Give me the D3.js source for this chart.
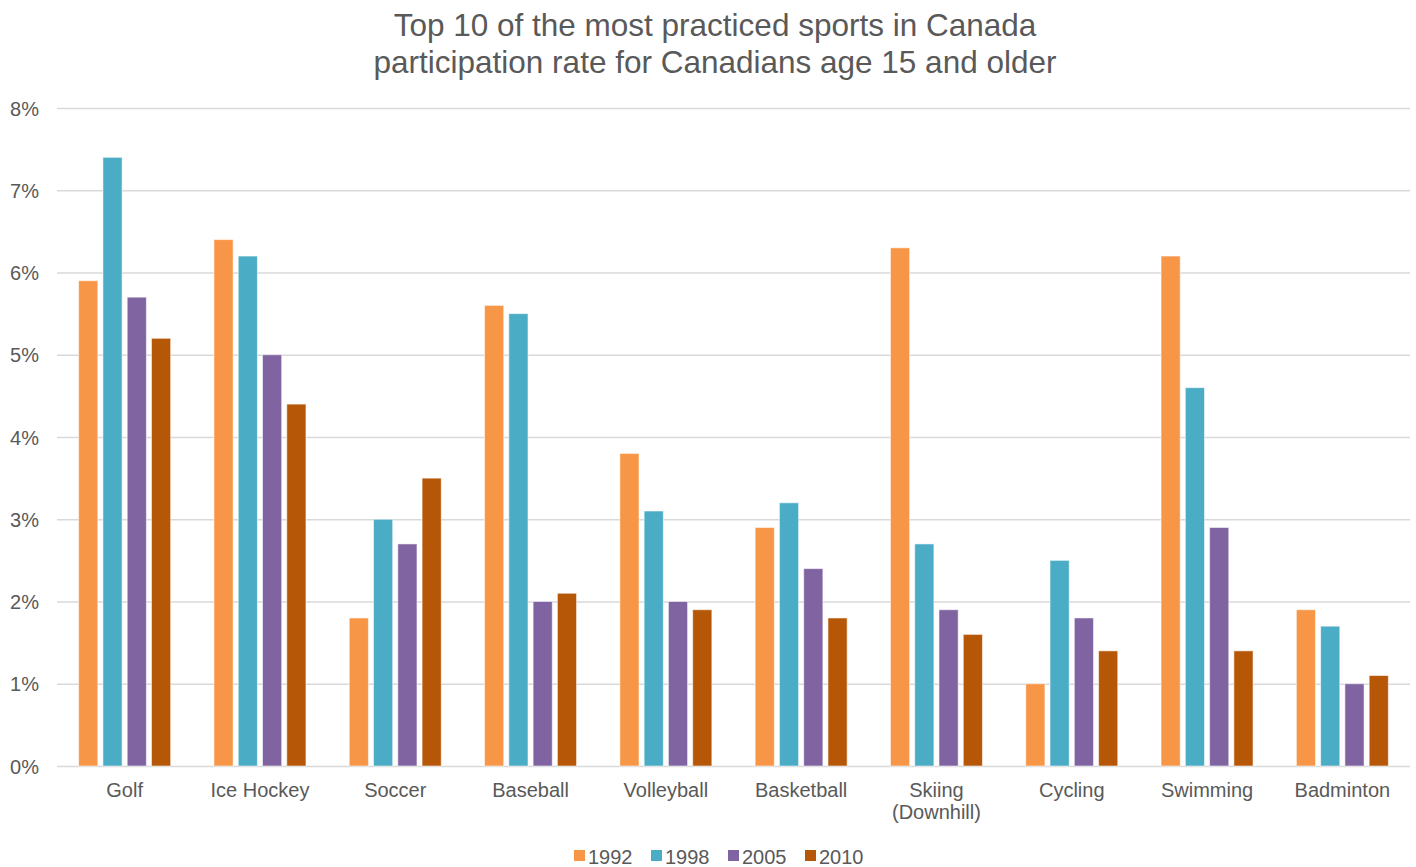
<!DOCTYPE html>
<html>
<head>
<meta charset="utf-8">
<script src="https://cdn.jsdelivr.net/npm/d3@7"></script>
<style>
  html, body { margin: 0; padding: 0; background: #fff; }
  svg text { font-family: "Liberation Sans", Arial, Helvetica, sans-serif; fill: #595959; }
</style>
</head>
<body>
<svg id="chart" width="1416" height="867"></svg>
<script>
// Sports and survey years
const categories = ["Golf", "Ice Hockey", "Soccer", "Baseball", "Volleyball", "Basketball", "Skiing\n(Downhill)", "Cycling", "Swimming", "Badminton"];
const years = ["1992", "1998", "2005", "2010"];

// Participation rate (%) per year, one value per sport
const rate1992 = [5.9, 6.4, 1.8, 5.6, 3.8, 2.9, 6.3, 1.0, 6.2, 1.9];
const rate1998 = [7.4, 6.2, 3.0, 5.5, 3.1, 3.2, 2.7, 2.5, 4.6, 1.7];
const rate2005 = [5.7, 5.0, 2.7, 2.0, 2.0, 2.4, 1.9, 1.8, 2.9, 1.0];
const rate2010 = [5.2, 4.4, 3.5, 2.1, 1.9, 1.8, 1.6, 1.4, 1.4, 1.1];

const yTicks = [0, 1, 2, 3, 4, 5, 6, 7, 8];
const titleLines = ["Top 10 of the most practiced sports in Canada", "participation rate for Canadians age 15 and older"];

const seriesValues = [rate1992, rate1998, rate2005, rate2010];
const colors = ["#F79646", "#4BACC6", "#8064A2", "#B65708"];

const svg = d3.select("#chart");
const plotLeft = 57, plotRight = 1410, plotTop = 108, plotBottom = 766;

const x0 = d3.scaleBand().domain(categories).range([plotLeft, plotRight]).paddingInner(0.32).paddingOuter(0.16);
const x1 = d3.scaleBand().domain(years).range([0, x0.bandwidth()]).paddingInner(0.21).paddingOuter(0);
const y = d3.scaleLinear().domain([0, 8]).range([plotBottom, plotTop]);
const color = d3.scaleOrdinal().domain(years).range(colors);

// Title
svg.append("g").selectAll("text").data(titleLines).join("text")
  .attr("x", 715).attr("y", (d, i) => 36 + i * 37)
  .attr("text-anchor", "middle").attr("font-size", 31.5)
  .text(d => d);

// Gridlines and y labels
const yAxis = d3.axisLeft(y).tickValues(yTicks).tickFormat(d => d + "%").tickSize(-(plotRight - plotLeft)).tickPadding(18);
const gy = svg.append("g").attr("transform", `translate(${plotLeft},0)`).call(yAxis);
gy.select(".domain").remove();
gy.selectAll(".tick line").attr("stroke", "#d9d9d9").attr("stroke-width", 1.5);
gy.selectAll(".tick text").attr("font-size", 20).attr("fill", "#595959").attr("dy", "0.35em");

// Bars
const rows = categories.map((c, i) => ({ cat: c, vals: years.map((yr, k) => ({ year: yr, value: seriesValues[k][i] })) }));
svg.append("g").selectAll("g").data(rows).join("g")
  .attr("transform", d => `translate(${x0(d.cat)},0)`)
  .selectAll("rect").data(d => d.vals).join("rect")
  .attr("x", d => x1(d.year))
  .attr("y", d => y(d.value))
  .attr("width", x1.bandwidth())
  .attr("height", d => y(0) - y(d.value))
  .attr("fill", d => color(d.year))
  .attr("stroke", "#ffffff").attr("stroke-opacity", 0.55).attr("stroke-width", 1);

// Category labels
const xAxis = d3.axisBottom(x0).tickSize(0).tickPadding(0).tickFormat("");
const gx = svg.append("g").attr("transform", `translate(0,${plotBottom})`).call(xAxis);
gx.select(".domain").remove();
gx.selectAll(".tick").each(function(d) {
  const t = d3.select(this).append("text").attr("text-anchor", "middle").attr("font-size", 20).attr("fill", "#595959");
  d.split("\n").forEach((line, i) => {
    t.append("tspan").attr("x", 0).attr("y", 31 + i * 22).text(line);
  });
});

// Legend
const legend = svg.append("g").selectAll("g").data(years).join("g")
  .attr("transform", (d, i) => `translate(${574 + i * 77},0)`);
legend.append("rect").attr("x", 0).attr("y", 850).attr("width", 11).attr("height", 11).attr("fill", d => color(d));
legend.append("text").attr("x", 14).attr("y", 864).attr("font-size", 20).text(d => d);
</script>
</body>
</html>
